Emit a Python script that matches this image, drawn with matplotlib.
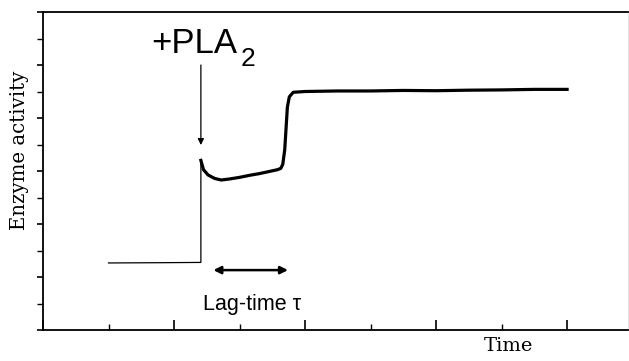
import matplotlib
matplotlib.use("Agg")
import matplotlib.pyplot as plt
from matplotlib.ticker import MultipleLocator

# Data (arbitrary units)
baseline_time = [1.0, 1.8, 2.41, 2.41]
baseline_activity = [2.53, 2.54, 2.55, 6.40]

trace_time = [2.41, 2.45, 2.52, 2.62, 2.72, 2.85, 3.00, 3.16, 3.30, 3.45, 3.58, 3.63,
              3.66, 3.69, 3.71, 3.73, 3.76, 3.82, 4.0, 4.5, 5.0, 5.5, 6.0, 6.5, 7.0, 7.5, 8.0]
trace_activity = [6.40, 6.05, 5.85, 5.72, 5.66, 5.70, 5.76, 5.84, 5.90, 5.98, 6.05, 6.10,
                  6.25, 6.80, 7.60, 8.40, 8.80, 8.97, 9.00, 9.02, 9.02, 9.04, 9.03, 9.05, 9.06, 9.08, 9.08]

pla_time, pla_arrow_top, pla_arrow_tip = 2.41, 10.0, 6.98
lag_start, lag_end, lag_level = 2.60, 3.74, 2.26

fig = plt.figure(figsize=(6.29, 3.61), dpi=100)
ax = fig.add_axes([43/629, 31/361, 585/629, 318/361])

ax.plot(baseline_time, baseline_activity, color="black", lw=0.9)
ax.plot(trace_time, trace_activity, color="black", lw=2.3, solid_joinstyle="round")

ax.set_xlim(0, 8.93)
ax.set_ylim(0, 12)

ax.xaxis.set_major_locator(MultipleLocator(2))
ax.xaxis.set_minor_locator(MultipleLocator(1))
ax.yaxis.set_major_locator(MultipleLocator(2))
ax.yaxis.set_minor_locator(MultipleLocator(1))
ax.set_xticklabels([])
ax.set_yticklabels([])
ax.tick_params(axis="x", which="major", direction="in", length=7, width=1.2, top=False)
ax.tick_params(axis="x", which="minor", direction="in", length=4, width=1.0, top=False)
ax.tick_params(axis="y", which="major", direction="out", length=4, width=1.2, right=False)
ax.tick_params(axis="y", which="minor", direction="out", length=4, width=1.0, right=False)

for s in ["left", "bottom", "top"]:
    ax.spines[s].set_linewidth(1.3)
    ax.spines[s].set_color("black")
ax.spines["right"].set_color("#e4e4e4")
ax.spines["right"].set_linewidth(0.8)

# +PLA2 annotation
ax.text(1.66, 10.45, "+PLA", fontsize=25, family="Liberation Sans", ha="left", va="baseline")
ax.text(3.02, 9.98, "2", fontsize=19, family="Liberation Sans", ha="left", va="baseline")
ax.annotate("", xy=(pla_time, pla_arrow_tip), xytext=(pla_time, pla_arrow_top),
            arrowprops=dict(arrowstyle="-|>", color="black", lw=0.9,
                            mutation_scale=9, shrinkA=0, shrinkB=0))

# Lag-time double arrow
ax.annotate("", xy=(lag_end, lag_level), xytext=(lag_start, lag_level),
            arrowprops=dict(arrowstyle="<|-|>", color="black", lw=1.8,
                            mutation_scale=11, shrinkA=0, shrinkB=0))
ax.text(2.44, 0.75, "Lag-time τ", fontsize=15.5, family="Liberation Sans",
        ha="left", va="baseline")

fig.text(20/629, 1 - 150/361, "Enzyme activity", rotation=90, fontsize=14.2,
         family="DejaVu Serif", ha="center", va="center")
fig.text(508/629, 1 - 346/361, "Time", fontsize=14, family="DejaVu Serif",
         ha="center", va="center")

fig.savefig("out.png", dpi=100)
